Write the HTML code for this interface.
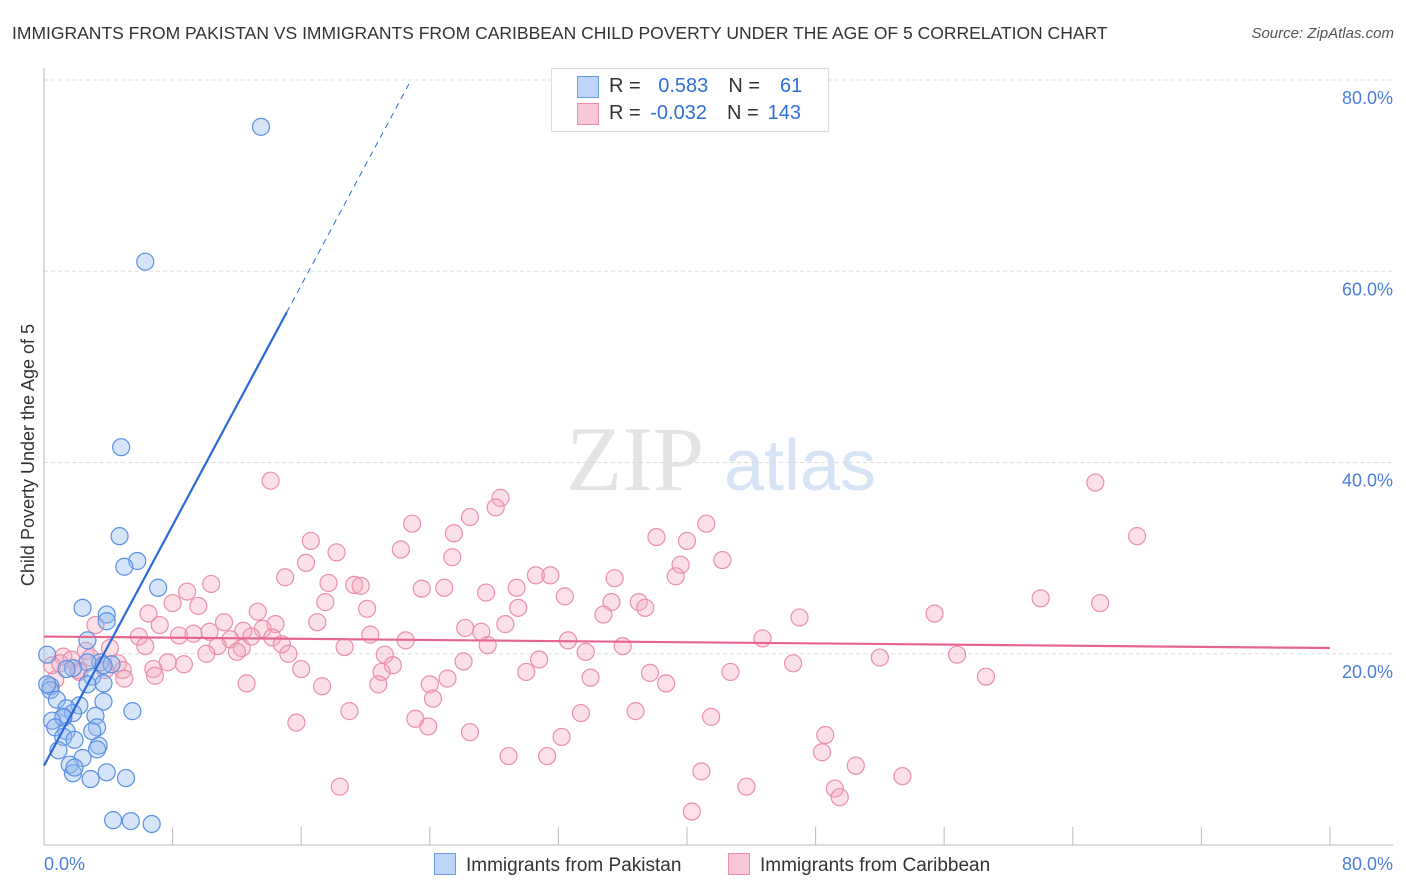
<!DOCTYPE html>
<html><head><meta charset="utf-8"><style>
body{margin:0;background:#fff;font-family:"Liberation Sans",sans-serif;}
#wrap{position:relative;width:1406px;height:892px;overflow:hidden;}
.t{position:absolute;white-space:nowrap;}
</style></head><body>
<div id="wrap">
<div class="t" style="left:12px;top:23px;font-size:17.5px;color:#333;">IMMIGRANTS FROM PAKISTAN VS IMMIGRANTS FROM CARIBBEAN CHILD POVERTY UNDER THE AGE OF 5 CORRELATION CHART</div>
<div class="t" style="right:12px;top:25px;font-size:15px;color:#555;font-style:italic;">Source: ZipAtlas.com</div>
<svg id="plot" width="1406" height="892" style="position:absolute;left:0;top:0"></svg>
</div>
<script>
const pakX=[13.5,6.3,4.8,4.7,5.8,5.0,7.1,2.4,3.9,3.9,2.7,0.2,3.5,2.7,4.2,1.8,3.0,3.7,2.7,0.4,0.4,3.7,0.8,2.2,1.4,1.8,5.5,3.2,1.2,1.2,0.5,0.7,1.4,3.3,3.0,1.2,1.9,3.4,3.3,0.9,2.4,1.6,1.8,1.9,3.9,2.9,5.1,4.3,5.4,6.7,1.4,3.7,0.2];
const pakY=[75.1,61.0,41.6,32.3,29.7,29.1,26.9,24.8,24.1,23.4,21.4,19.9,19.1,19.1,18.9,18.5,17.6,16.9,16.8,16.6,16.2,15.0,15.2,14.6,14.3,13.8,14.0,13.5,13.3,13.4,13.0,12.3,11.9,12.3,11.9,11.3,11.0,10.4,10.0,9.9,9.1,8.4,7.5,8.1,7.6,6.9,7.0,2.6,2.5,2.2,18.4,18.8,16.8];
const carX=[14.1,65.4,68.0,28.4,28.1,26.5,22.9,41.2,38.1,40.0,16.6,25.5,22.2,18.2,25.4,42.2,16.3,39.6,15.0,30.6,31.5,35.5,39.3,10.4,17.7,19.3,19.7,23.5,24.9,29.4,8.9,27.5,32.4,62.0,8.0,9.6,17.5,35.3,37.0,65.7,29.5,20.1,37.4,6.5,13.3,34.8,55.4,47.0,11.2,17.0,7.2,14.4,28.7,3.2,12.4,13.6,26.2,27.2,5.9,8.4,9.3,10.3,11.6,12.9,14.2,20.3,22.5,32.6,44.7,14.8,6.3,10.8,12.3,27.6,18.7,36.0,4.1,10.1,12.0,15.2,21.2,33.7,56.8,1.2,26.1,30.8,52.0,4.6,7.7,8.7,21.7,46.6,6.8,4.9,16.0,21.0,30.0,37.7,42.7,2.1,3.8,6.9,5.0,25.1,34.0,58.6,38.7,12.6,17.3,20.8,24.0,24.2,0.7,0.5,19.0,33.4,36.8,23.1,41.5,15.7,23.9,26.5,48.6,32.2,48.4,28.9,31.3,50.5,40.9,53.4,18.4,43.7,49.2,49.5,40.3,1.0,1.7,2.6,2.2,2.9];
const carY=[38.1,37.9,32.3,36.3,35.3,34.3,33.6,33.6,32.2,31.8,31.8,32.6,30.9,30.6,30.1,29.8,29.5,29.3,28.0,28.2,28.2,27.9,28.1,27.3,27.4,27.2,27.1,26.8,26.9,26.9,26.5,26.4,26.0,25.8,25.3,25.0,25.4,25.4,25.4,25.3,24.8,24.7,24.8,24.2,24.4,24.1,24.2,23.8,23.3,23.3,23.0,23.1,23.1,23.0,22.4,22.6,22.7,22.3,21.8,21.9,22.1,22.3,21.5,21.8,21.7,22.0,21.4,21.4,21.6,21.0,20.8,20.8,20.6,20.9,20.7,20.8,20.6,20.0,20.2,20.0,19.9,20.2,19.9,19.7,19.2,19.4,19.6,19.0,19.1,18.9,18.8,19.0,18.4,18.3,18.4,18.1,18.1,18.0,18.1,18.3,18.3,17.7,17.4,17.4,17.5,17.6,16.9,16.9,16.6,16.8,16.8,15.3,17.3,18.8,14.0,13.8,14.0,13.2,13.4,12.8,12.4,11.8,11.5,11.3,9.7,9.3,9.3,8.3,7.7,7.2,6.1,6.1,5.9,5.0,3.5,19.0,19.4,20.3,18.1,19.6];
const yTicks=[20,40,60,80];
const blueTrend={b:8.3,m:3.14,solidEnd:15.1,dashEnd:22.7};
const pinkTrend={y0:21.8,y80:20.6};

const NS="http://www.w3.org/2000/svg";
const svg=document.getElementById('plot');
const X0=44,X1=1330,Y0=845,Y80=80;
const sx=v=>X0+(X1-X0)*v/80;
const sy=v=>Y0-(Y0-Y80)*v/80;
function mk(tag,attrs,parent){const e=document.createElementNS(NS,tag);for(const k in attrs)e.setAttribute(k,attrs[k]);(parent||svg).appendChild(e);return e;}

// watermark
let wm=mk('text',{x:635,y:490,'font-size':92,'font-family':'Liberation Serif, serif',fill:'#e4e4e4','text-anchor':'middle'});


wm.textContent='ZIP';
let wm2=mk('text',{x:800,y:490,'font-size':72,'font-family':'Liberation Sans, sans-serif',fill:'#d6e4f5','text-anchor':'middle'});


wm2.textContent='atlas';

// gridlines and y labels
yTicks.forEach(v=>{
  const g=mk('line',{x1:X0,x2:1393,y1:sy(v),y2:sy(v),stroke:'#ddd','stroke-dasharray':'4,3'});
  
  
  const t=mk('text',{x:1393,y:sy(v)+24,'font-size':18,fill:'#4a7fd8','text-anchor':'end'});
  
  
  t.textContent=v.toFixed(1)+'%';
});
// axes
let ax=mk('line',{x1:X0,x2:X0,y1:68,y2:Y0,stroke:'#bbb'});


let axb=mk('line',{x1:X0,x2:1393,y1:Y0,y2:Y0,stroke:'#bbb'});


for(let i=1;i<=10;i++){
  const tk=mk('line',{x1:sx(i*8),x2:sx(i*8),y1:Y0-18,y2:Y0,stroke:'#bbb'});
  
  
}
[['0.0%',X0,'start'],['80.0%',1393,'end']].forEach(a=>{
  const t=mk('text',{x:a[1],y:870,'font-size':18,fill:'#4a7fd8','text-anchor':a[2]});
  
  
  t.textContent=a[0];
});
let yt=mk('text',{x:0,y:0,'font-size':18,fill:'#333','text-anchor':'middle',transform:'translate(34,455) rotate(-90)'});


yt.textContent='Child Poverty Under the Age of 5';

// points
carX.forEach((x,i)=>{
  const c=mk('circle',{cx:sx(x),cy:sy(carY[i]),r:8.5,fill:'rgba(244,166,190,0.35)',stroke:'#eb8fab','stroke-width':1.2});
  
  
});
pakX.forEach((x,i)=>{
  const c=mk('circle',{cx:sx(x),cy:sy(pakY[i]),r:8.5,fill:'rgba(150,188,238,0.4)',stroke:'#5a90e0','stroke-width':1.2});
  
  
});
// trends
let pl=mk('line',{x1:sx(0),y1:sy(pinkTrend.y0),x2:sx(80),y2:sy(pinkTrend.y80),stroke:'#e5658e','stroke-width':2.2});


const bt=x=>blueTrend.b+blueTrend.m*x;
let bl=mk('line',{x1:sx(0),y1:sy(bt(0)),x2:sx(blueTrend.solidEnd),y2:sy(bt(blueTrend.solidEnd)),stroke:'#2a6ad8','stroke-width':2.2});


let bd=mk('line',{x1:sx(blueTrend.solidEnd),y1:sy(bt(blueTrend.solidEnd)),x2:sx(blueTrend.dashEnd),y2:sy(bt(blueTrend.dashEnd)),stroke:'#2a6ad8','stroke-width':1,'stroke-dasharray':'6,5'});


</script>
<div class="t" style="left:551px;top:68px;width:276px;height:62px;border:1px solid #ddd;background:#fff;font-size:20px;">
  <div style="position:absolute;left:25px;top:7px;width:20px;height:20px;background:#bcd4f5;border:1px solid #6b9be3;"></div>
  <div style="position:absolute;left:57px;top:6px;color:#333;">R = <span style="color:#2f6fd8;margin-left:12px">0.583</span><span style="color:#333;margin-left:20px">N =</span><span style="color:#2f6fd8;margin-left:20px">61</span></div>
  <div style="position:absolute;left:25px;top:34px;width:20px;height:20px;background:#f9c8d6;border:1px solid #eb8fab;"></div>
  <div style="position:absolute;left:57px;top:33px;color:#333;">R = <span style="color:#2f6fd8;margin-left:4px">-0.032</span><span style="color:#333;margin-left:20px">N =</span><span style="color:#2f6fd8;margin-left:9px">143</span></div>
</div>
<div class="t" style="left:434px;top:853px;font-size:19px;color:#333;"><span style="display:inline-block;width:20px;height:20px;background:#bcd4f5;border:1px solid #6b9be3;vertical-align:-4px;margin-right:10px"></span>Immigrants from Pakistan</div>
<div class="t" style="left:728px;top:853px;font-size:19px;color:#333;"><span style="display:inline-block;width:20px;height:20px;background:#f9c8d6;border:1px solid #eb8fab;vertical-align:-4px;margin-right:10px"></span>Immigrants from Caribbean</div>
</body></html>
